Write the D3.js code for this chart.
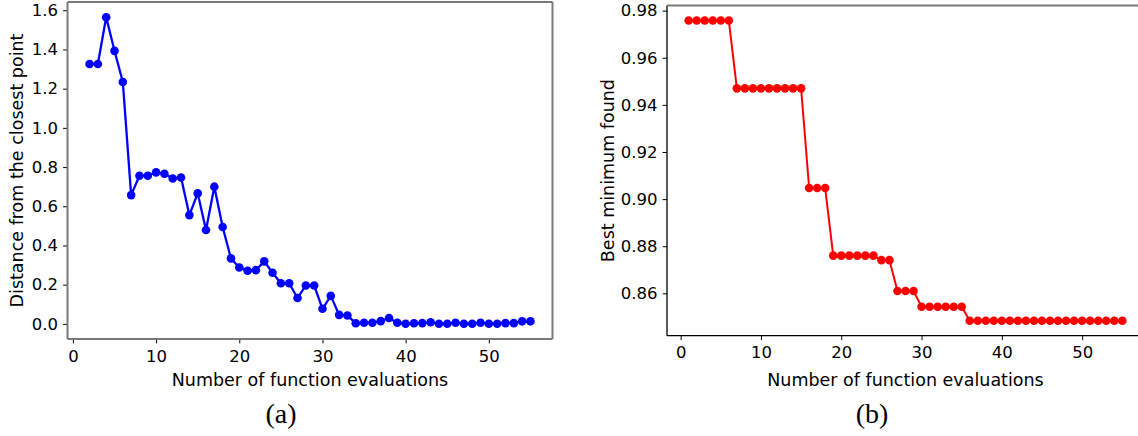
<!DOCTYPE html>
<html>
<head>
<meta charset="utf-8">
<script src="https://cdn.jsdelivr.net/npm/d3@7"></script>
<style>
  html, body { margin: 0; padding: 0; background: #fff; }
  svg { display: block; }
  text { font-family: "DejaVu Sans", sans-serif; fill: #000; }
  .caption { font-family: "Liberation Serif", "DejaVu Serif", serif; }
</style>
</head>
<body>
<svg id="fig" width="1138" height="436"></svg>
<script>
// Panel (a): distance from the closest point after each evaluation
const evalsA = [2,3,4,5,6,7,8,9,10,11,12,13,14,15,16,17,18,19,20,21,22,23,24,25,26,27,28,
  29,30,31,32,33,34,35,36,37,38,39,40,41,42,43,44,45,46,47,48,49,50,51,52,53,54,55];
const distanceA = [1.326,1.326,1.564,1.393,1.234,0.657,0.756,0.756,0.773,0.766,0.742,0.747,
  0.555,0.666,0.479,0.700,0.494,0.334,0.288,0.271,0.274,0.319,0.261,0.207,
  0.207,0.132,0.196,0.196,0.077,0.143,0.046,0.043,0.003,0.006,0.006,0.014,
  0.030,0.006,0.001,0.003,0.004,0.008,0.001,0.001,0.006,0.001,0.001,0.006,
  0.001,0.001,0.004,0.004,0.013,0.013];

// Panel (b): best minimum found so far
const evalsB = [1,2,3,4,5,6,7,8,9,10,11,12,13,14,15,16,17,18,19,20,21,22,23,24,25,26,27,28,
  29,30,31,32,33,34,35,36,37,38,39,40,41,42,43,44,45,46,47,48,49,50,51,52,53,54,55];
const bestB = [0.9758,0.9758,0.9758,0.9758,0.9758,0.9758,
  0.9470,0.9470,0.9470,0.9470,0.9470,0.9470,0.9470,0.9470,0.9470,
  0.9047,0.9047,0.9047,
  0.8760,0.8760,0.8760,0.8760,0.8760,0.8760,
  0.8741,0.8741,
  0.8610,0.8610,0.8610,
  0.8543,0.8543,0.8543,0.8543,0.8543,0.8543,
  0.8484,0.8484,0.8484,0.8484,0.8484,0.8484,0.8484,0.8484,0.8484,0.8484,
  0.8484,0.8484,0.8484,0.8484,0.8484,0.8484,0.8484,0.8484,0.8484,0.8484];

const xTicks = [0, 10, 20, 30, 40, 50];
const yTicksA = [0.0, 0.2, 0.4, 0.6, 0.8, 1.0, 1.2, 1.4, 1.6];
const yTicksB = [0.86, 0.88, 0.90, 0.92, 0.94, 0.96, 0.98];
const xLabel = "Number of function evaluations";

const TICK_FONT = 16.5;
const LABEL_FONT = 17.5;

const svg = d3.select("#fig");

// Extent padded by 5% on each side
function padded(vals) {
  const [lo, hi] = d3.extent(vals);
  const m = (hi - lo) * 0.05;
  return [lo - m, hi + m];
}

function panel(opts) {
  const { xs, ys, box, color, lw, r, yTicks, yFmt, yLabel, yLabelX, caption, captionX, frame, xPad } = opts;
  const x = d3.scaleLinear().domain(padded(xs)).range([box.left, box.right]);
  const y = d3.scaleLinear().domain(padded(ys)).range([box.bottom, box.top]);
  const g = svg.append("g");

  // Axes
  const xAxis = d3.axisBottom(x).tickValues(xTicks).tickFormat(d3.format("d"))
    .tickSize(4.4).tickPadding(xPad);
  const yAxis = d3.axisLeft(y).tickValues(yTicks).tickFormat(yFmt)
    .tickSize(4.4).tickPadding(5);

  const gx = g.append("g").attr("transform", `translate(0,${box.bottom})`).call(xAxis);
  const gy = g.append("g").attr("transform", `translate(${box.left},0)`).call(yAxis);
  [gx, gy].forEach(a => {
    a.select(".domain").remove();
    a.selectAll(".tick line").attr("stroke", "#000").attr("stroke-width", 1);
    a.selectAll(".tick text").attr("font-size", TICK_FONT).attr("font-family", "DejaVu Sans");
  });

  // Frame
  const fr = g.append("g").attr("fill", "none");
  fr.append("line").attr("x1", box.left).attr("x2", box.left).attr("y1", box.top).attr("y2", box.bottom)
    .attr("stroke", frame.left).attr("stroke-width", frame.w);
  fr.append("line").attr("x1", box.left).attr("x2", box.right).attr("y1", box.bottom).attr("y2", box.bottom)
    .attr("stroke", frame.bottom).attr("stroke-width", frame.w);
  fr.append("line").attr("x1", box.left).attr("x2", box.right).attr("y1", box.top).attr("y2", box.top)
    .attr("stroke", frame.top).attr("stroke-width", 2);
  fr.append("line").attr("x1", box.right).attr("x2", box.right).attr("y1", box.top).attr("y2", box.bottom)
    .attr("stroke", frame.right).attr("stroke-width", frame.w);

  // Series
  const pts = xs.map((v, i) => [v, ys[i]]);
  g.append("path").datum(pts)
    .attr("fill", "none").attr("stroke", color).attr("stroke-width", lw)
    .attr("stroke-linejoin", "round")
    .attr("d", d3.line().x(d => x(d[0])).y(d => y(d[1])));
  g.append("g").selectAll("circle").data(pts).join("circle")
    .attr("cx", d => x(d[0])).attr("cy", d => y(d[1])).attr("r", r).attr("fill", color);

  // Labels
  const cx = (box.left + box.right) / 2;
  const cy = (box.top + box.bottom) / 2;
  g.append("text").attr("x", cx).attr("y", 386).attr("text-anchor", "middle")
    .attr("font-size", LABEL_FONT).text(xLabel);
  g.append("text").attr("transform", `translate(${yLabelX},${cy}) rotate(-90)`)
    .attr("text-anchor", "middle").attr("font-size", LABEL_FONT).text(yLabel);
  g.append("text").attr("class", "caption").attr("x", captionX).attr("y", 423)
    .attr("text-anchor", "middle").attr("font-size", 28).text(caption);
}

panel({
  xs: evalsA, ys: distanceA,
  box: { left: 67.5, right: 552.5, top: 2, bottom: 339 },
  color: "#0000ff", lw: 2.3, r: 4.3, xPad: 7,
  yTicks: yTicksA, yFmt: d3.format(".1f"),
  yLabel: "Distance from the closest point", yLabelX: 23,
  caption: "(a)", captionX: 281,
  frame: { left: "#7a7a7a", bottom: "#7a7a7a", top: "#7a7a7a", right: "#7a7a7a", w: 2 }
});

panel({
  xs: evalsB, ys: bestB,
  box: { left: 667, right: 1144, top: 5.5, bottom: 335.7 },
  color: "#ff0000", lw: 2, r: 4.3, xPad: 6.6,
  yTicks: yTicksB, yFmt: d3.format(".2f"),
  yLabel: "Best minimum found", yLabelX: 613.5,
  caption: "(b)", captionX: 872,
  frame: { left: "#000", bottom: "#000", top: "#7a7a7a", right: "#000", w: 1.3 }
});
</script>
</body>
</html>
